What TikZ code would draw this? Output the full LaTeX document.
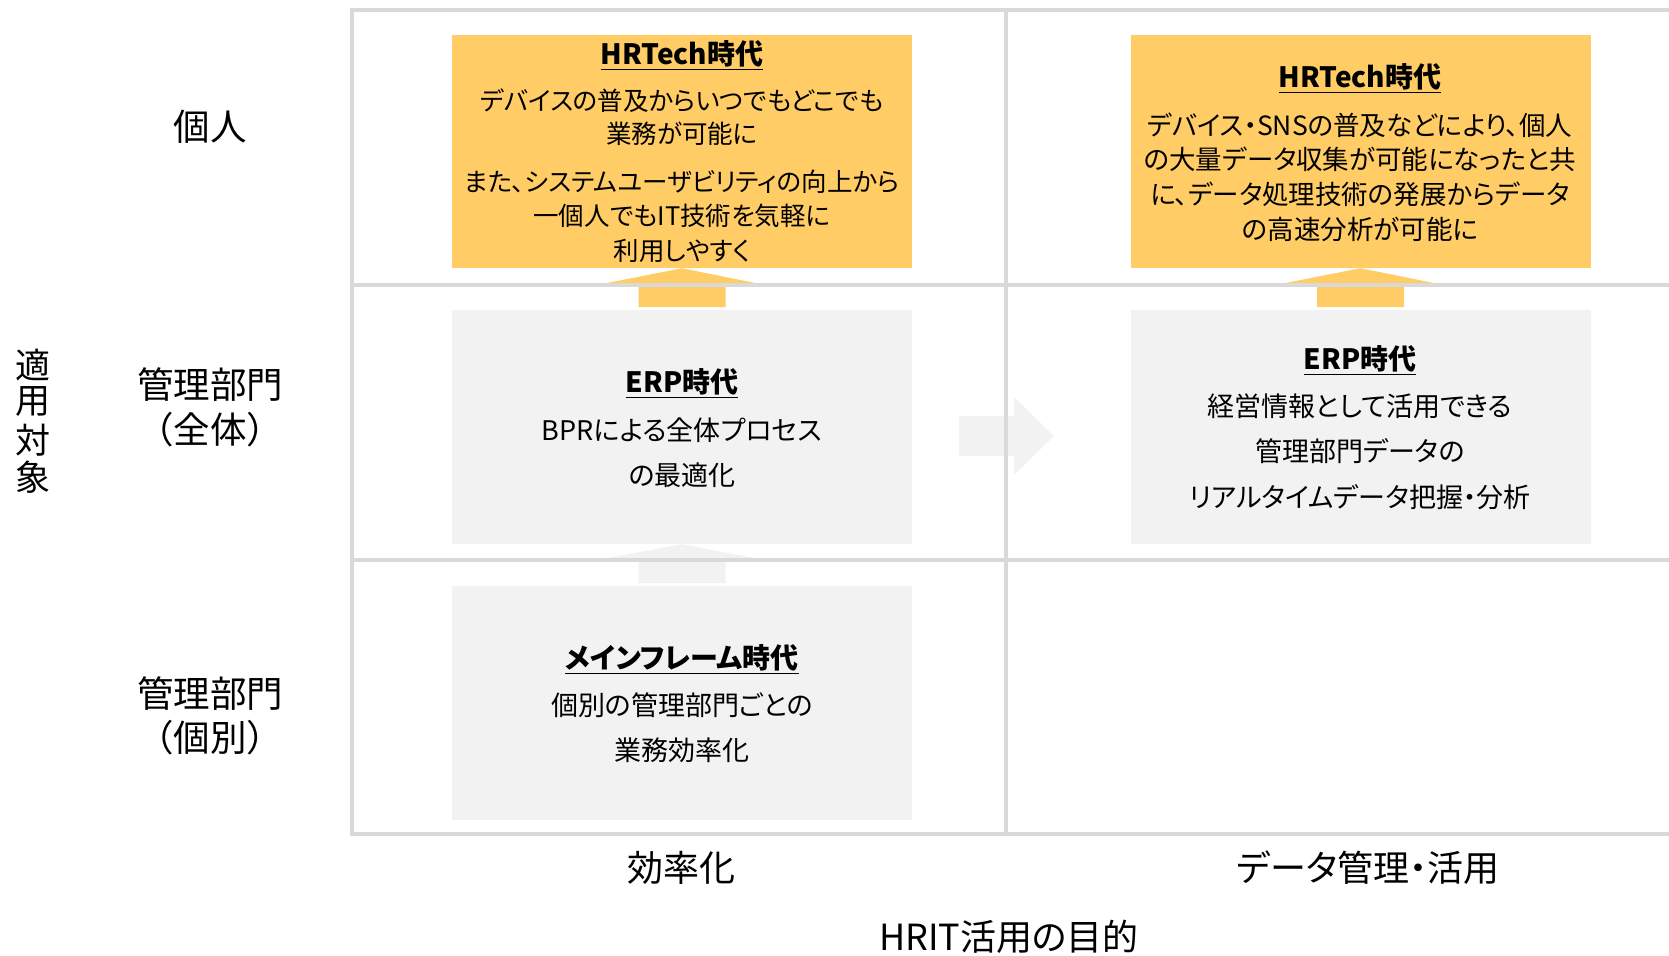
\documentclass[tikz,border=0pt]{standalone}
\usepackage{fontspec}
\setmainfont{Noto Sans CJK JP}[RawFeature=+palt]
\newfontfamily\jpfull{Noto Sans CJK JP}
\usetikzlibrary{calc}
\definecolor{gridc}{HTML}{D9D9D9}
\definecolor{yel}{HTML}{FFCC66}
\definecolor{gbox}{HTML}{F2F2F2}
\tikzset{
  gridline/.style={draw=gridc,line width=4.5pt},
  ybox/.style={fill=yel,draw=none,minimum width=460pt,minimum height=233pt,inner sep=0pt},
  gboxs/.style={fill=gbox,draw=none,minimum width=460pt,minimum height=234pt,inner sep=0pt},
  txt/.style={inner sep=0pt,font=\fontsize{25.5}{30}\selectfont},
  txtr/.style={inner sep=0pt,font=\fontsize{26.5}{30}\selectfont},
  txtg/.style={inner sep=0pt,font=\fontsize{27}{31}\selectfont},
  ttl/.style={inner sep=0pt,font=\fontsize{28}{32}\selectfont\bfseries},
  lbl/.style={inner sep=0pt,font=\jpfull\fontsize{36.5}{40}\selectfont},
  vlbl/.style={inner sep=0pt,font=\jpfull\fontsize{35}{40}\selectfont},
  axl/.style={inner sep=0pt,font=\fontsize{36}{40}\selectfont},
}
\begin{document}
\begin{tikzpicture}[x=1pt,y=-1pt]
\useasboundingbox (0,0) rectangle (1669,955);
% boxes
\node[ybox] (hr1) at (682,151.5) {};
\node[ybox] (hr2) at (1360.5,151.5) {};
\node[gboxs] (erp1) at (682,427) {};
\node[gboxs] (erp2) at (1360.5,427) {};
\node[gboxs] (mf) at (682,702.5) {};
% arrows
\fill[yel] (hr1.south) -- ($(hr1.south)+(84,17)$) -- ($(hr1.south)+(43.5,17)$) -- ($(hr1.south)+(43.5,39)$)
  -- ($(hr1.south)+(-43.5,39)$) -- ($(hr1.south)+(-43.5,17)$) -- ($(hr1.south)+(-86,17)$) -- cycle;
\fill[yel] (hr2.south) -- ($(hr2.south)+(84,17)$) -- ($(hr2.south)+(43.5,17)$) -- ($(hr2.south)+(43.5,39)$)
  -- ($(hr2.south)+(-43.5,39)$) -- ($(hr2.south)+(-43.5,17)$) -- ($(hr2.south)+(-86,17)$) -- cycle;
\fill[gbox] (erp1.south) -- ($(erp1.south)+(84,16)$) -- ($(erp1.south)+(43.5,16)$) -- ($(erp1.south)+(43.5,39)$)
  -- ($(erp1.south)+(-43.5,39)$) -- ($(erp1.south)+(-43.5,16)$) -- ($(erp1.south)+(-86,16)$) -- cycle;
\coordinate (ra) at (959,436);
\fill[gbox] (ra) ++(0,-20) -- ++(55,0) -- ++(0,-19) -- (1054,436) -- (1014,475) -- (1014,456) -- (959,456) -- cycle;
% grid
\draw[gridline] (352,10) -- (1669,10);
\draw[gridline] (352,285) -- (1669,285);
\draw[gridline] (352,560) -- (1669,560);
\draw[gridline] (352,834) -- (1669,834);
\draw[gridline] (352,8) -- (352,836);
\draw[gridline] (1006,8) -- (1006,836);
% texts left HRTech
\node[ttl] (t1) at (682,55) {\underline{HRTech時代}};
\node[txt] (t1a) at (682,101) {デバイスの普及からいつでもどこでも};
\node[txt] (t1b) at (682,134) {業務が可能に};
\node[txt] (t1c) at (682,182) {また、システムユーザビリティの向上から};
\node[txt] (t1d) at (682,216) {一個人でもIT技術を気軽に};
\node[txt] (t1e) at (682,251) {利用しやすく};
% right HRTech
\node[ttl] (t2) at (1360,78) {\underline{HRTech時代}};
\node[txtr] (t2a) at (1360,125) {デバイス・SNSの普及などにより、個人};
\node[txtr] (t2b) at (1360,159) {の大量データ収集が可能になったと共};
\node[txtr] (t2c) at (1360,194) {に、データ処理技術の発展からデータ};
\node[txtr] (t2d) at (1360,229) {の高速分析が可能に};
% ERP left
\node[ttl] (t3) at (682,383) {\underline{ERP時代}};
\node[txtg] (t3a) at (682,430) {BPRによる全体プロセス};
\node[txtg] (t3b) at (682,475) {の最適化};
% ERP right
\node[ttl] (t4) at (1360,360) {\underline{ERP時代}};
\node[txtg] (t4a) at (1360,406) {経営情報として活用できる};
\node[txtg] (t4b) at (1360,451) {管理部門データの};
\node[txtg] (t4c) at (1360,497) {リアルタイムデータ把握・分析};
% mainframe
\node[ttl] (t5) at (682,659) {\underline{メインフレーム時代}};
\node[txtg] (t5a) at (682,705) {個別の管理部門ごとの};
\node[txtg] (t5b) at (682,750) {業務効率化};
% row labels
\node[lbl] (r1) at (210,127) {個人};
\node[lbl] (r2a) at (210,385) {管理部門};
\node[lbl] (r2b) at (210,430) {（全体）};
\node[lbl] (r3a) at (210,694) {管理部門};
\node[lbl] (r3b) at (210,738) {（個別）};
\node[vlbl] (v1) at (33,365) {適};
\node[vlbl] (v2) at (33,402) {用};
\node[vlbl] (v3) at (33,440) {対};
\node[vlbl] (v4) at (33,477) {象};
% column labels
\node[axl] (c1) at (681,868) {効率化};
\node[axl] (c2) at (1368,868) {データ管理・活用};
\node[axl] (c3) at (1009,937) {HRIT活用の目的};
\end{tikzpicture}
\end{document}
